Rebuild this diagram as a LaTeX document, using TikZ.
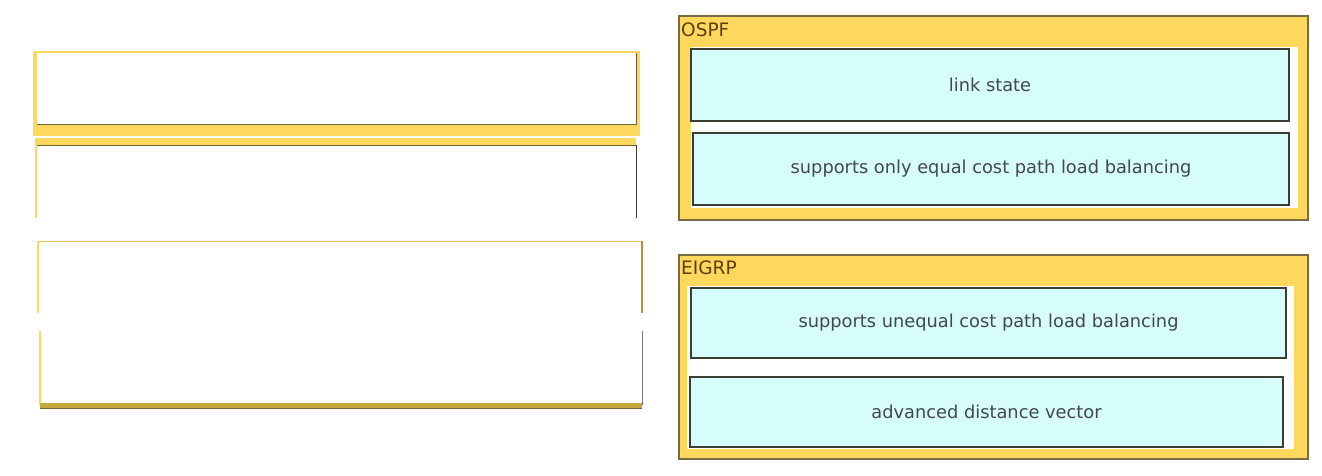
\documentclass[tikz,border=0pt]{standalone}
\usepackage{fontspec}
\setmainfont{DejaVu Sans}
\definecolor{ylw}{RGB}{253,216,92}
\definecolor{ylwdark}{RGB}{196,168,60}
\definecolor{olive}{RGB}{110,100,60}
\definecolor{frameline}{RGB}{120,108,70}
\definecolor{cyanfill}{RGB}{214,252,252}
\definecolor{boxline}{RGB}{60,60,50}
\definecolor{txt}{RGB}{66,72,80}
\definecolor{lbl}{RGB}{96,62,10}
\tikzset{
  plain/.style={anchor=north west, inner sep=0pt, outer sep=0pt},
  answerbox/.style={plain, fill=white},
  frame/.style={plain, fill=ylw, draw=frameline, line width=1.5pt},
  tray/.style={plain, fill=white},
  choice/.style={plain, fill=cyanfill, draw=boxline, line width=1.3pt, text=txt, font=\fontsize{17.8}{20}\selectfont},
  grouplabel/.style={anchor=north west, inner sep=0pt, text=lbl, font=\fontsize{18.5}{20}\selectfont},
}
\begin{document}
\begin{tikzpicture}[x=1pt,y=-1pt]
\useasboundingbox (0,0) rectangle (1322,475);
\fill[white] (0,0) rectangle (1322,475);

% ---- left answer slots ----
% slot 1
\node[plain, fill=ylw, minimum width=607pt, minimum height=85pt] (s1f) at (33,51) {};
\node[answerbox, minimum width=599pt, minimum height=71pt] (s1) at (37,53) {};
\draw[olive, line width=1pt] (s1.south west) -- (s1.south east) -- (s1.north east);
% slot 2
\node[answerbox, minimum width=600pt, minimum height=80pt] (s2) at (36,138) {};
\fill[ylw] (s2.north west) rectangle ([yshift=-7pt]s2.north east);
\draw[olive, line width=1pt] ([yshift=-7pt]s2.north west) -- ([yshift=-7pt]s2.north east);
\draw[ylw, line width=2pt] (s2.north west) -- (s2.south west);
\draw[boxline, line width=1pt] ([yshift=-7pt]s2.north east) -- (s2.south east);
% slot 3
\node[answerbox, minimum width=604pt, minimum height=72pt] (s3) at (38,241) {};
\draw[ylw!80!olive, line width=1pt] (s3.north west) -- (s3.north east);
\draw[ylw, line width=2.5pt] (s3.north west) -- (s3.south west);
\draw[ylwdark!70!olive, line width=2.5pt] (s3.north east) -- (s3.south east);
% slot 4
\node[answerbox, minimum width=602pt, minimum height=74pt] (s4) at (40,331) {};
\draw[ylw, line width=1.5pt] (s4.north west) -- (s4.south west);
\draw[boxline!70!white, line width=1pt] (s4.north east) -- (s4.south east);
\fill[ylwdark] ([yshift=-3pt]s4.south west) rectangle ([yshift=2pt]s4.south east);
\draw[olive, line width=1pt] ([yshift=-3pt]s4.south west) -- ([yshift=-3pt]s4.south east);

% ---- OSPF group ----
\node[frame, minimum width=629pt, minimum height=204pt] (ospf) at (679,16) {};
\node[grouplabel] (ospfl) at (681,23) {OSPF};
\node[tray, minimum width=607pt, minimum height=161pt] (otray) at (691,47) {};
\node[choice, minimum width=598pt, minimum height=72pt] (o1) at (691,49) {link state};
\node[choice, minimum width=596pt, minimum height=72pt] (o2) at (693,133) {supports only equal cost path load balancing};

% ---- EIGRP group ----
\node[frame, minimum width=629pt, minimum height=204pt] (eigrp) at (679,255) {};
\node[grouplabel] (eigrpl) at (681,261) {EIGRP};
\node[tray, minimum width=607pt, minimum height=163pt] (etray) at (687,286) {};
\node[choice, minimum width=595pt, minimum height=70pt] (e1) at (691,288) {supports unequal cost path load balancing};
\node[choice, minimum width=593pt, minimum height=70pt] (e2) at (690,377) {advanced distance vector};
\end{tikzpicture}
\end{document}
